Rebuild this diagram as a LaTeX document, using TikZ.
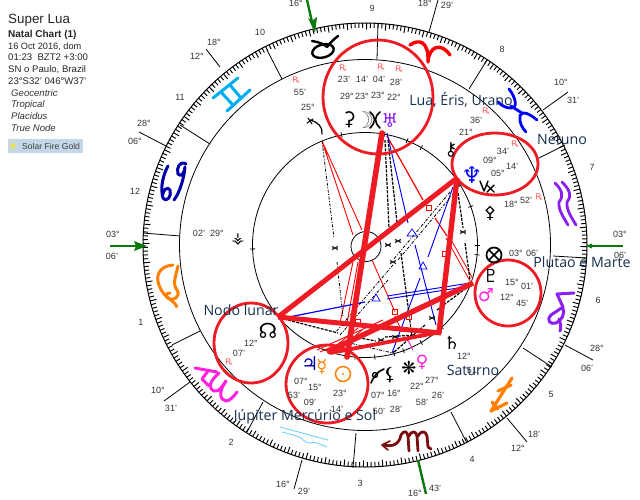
\documentclass[tikz,border=0pt]{standalone}
\usepackage{fontspec}
\setmainfont{Liberation Sans}
\newfontfamily\sym{DejaVu Sans}
\newfontfamily\ovl{Open Sans}
\definecolor{cred}{HTML}{ED1C24}
\definecolor{ovlc}{HTML}{17304F}
\definecolor{lab}{HTML}{333333}
\definecolor{rx}{HTML}{FF4040}
\definecolor{grn}{HTML}{0B7A0B}
\definecolor{purp}{HTML}{8A1FF0}
\definecolor{orng}{HTML}{FF8000}
\definecolor{mag}{HTML}{FF20E0}
\definecolor{dred}{HTML}{7B0F0F}
\definecolor{navy2}{HTML}{0000A8}
\definecolor{sfg}{HTML}{C4D6E8}
\tikzset{
 lb/.style={inner sep=0pt,font=\fontsize{9}{9}\selectfont,text=lab},
 hd/.style={anchor=base west,inner sep=0pt,font=\fontsize{9.6}{10}\selectfont,text=black!85},
 hi/.style={anchor=base west,inner sep=0pt,font=\fontsize{9.6}{10}\selectfont\itshape,text=black!80},
 rxl/.style={inner sep=0pt,font=\fontsize{8}{8}\selectfont,text=rx},
 ovtxt/.style={inner sep=0pt,font=\ovl\fontsize{14.2}{15}\selectfont,text=ovlc},
 gly/.style={inner sep=0pt,font=\sym\fontsize{#1}{#1}\selectfont},
 gly/.default=13,
 ring/.style={draw=black,line width=.8pt},
 cusp/.style={draw=black,line width=.8pt},
 aring/.style={draw=cred,line width=2.8pt},
 thick red/.style={draw=cred,line width=#1},
 zod/.style={line width=#1,line cap=round,line join=round},
 rl/.style={draw=red,line width=.9pt},
 bl/.style={draw=blue,line width=.95pt},
 dk/.style={draw=black,line width=.8pt,dash pattern=on 3pt off 1.5pt on 1pt off 1.5pt},
 dkb/.style={draw=black,line width=1.2pt,dash pattern=on 3pt off 1.2pt},
 sq/.style={draw=red,line width=.6pt,fill=white,fill opacity=.4,minimum size=5.5pt,inner sep=0pt},
 tri/.style={draw=blue,line width=.7pt},
}
\begin{document}
\begin{tikzpicture}[x=1pt,y=-1pt]
\useasboundingbox (0,0) rectangle (640,499);
\fill[white] (0,0) rectangle (640,499);
% header
\node[hd,font=\fontsize{13.4}{14}\selectfont] at (8,23) {Super Lua};
\node[hd,font=\fontsize{10}{10}\selectfont\bfseries] at (8,37) {Natal Chart (1)};
\node[hd,font=\fontsize{9.2}{10}\selectfont] at (8,49) {16 Oct 2016, dom};
\node[hd] at (8,60) {01:23\ \ BZT2 +3:00};
\node[hd] at (8,72) {SN o Paulo, Brazil};
\node[hd] at (8,84) {23°S32' 046°W37'};
\node[hi] at (11,96) {Geocentric};
\node[hi] at (11,107) {Tropical};
\node[hi] at (11,119) {Placidus};
\node[hi] at (11,131) {True Node};
\fill[sfg] (8,139) rectangle (83,153);
\node[hd,font=\fontsize{8.6}{9}\selectfont,text=black!75] at (22,149) {Solar Fire Gold};
\node[gly=11,text=yellow!85!orange] at (13,146) {☀};
% rings
\draw[ring,line width=1pt] (365,245) circle (222);
\draw[ring] (365,245) circle (185.5);
\draw[ring] (365,245) circle (112.5);
\draw[ring] (366,246.5) circle (15);
% degree ticks
\foreach \a in {0,...,359}{
  \pgfmathsetmacro{\rin}{mod(\a,5)==0 ? 215.5 : 217.2}
  \draw[black,line width=.95pt] ({365+\rin*cos(\a+.4)},{245+\rin*sin(\a+.4)}) -- ({365+222*cos(\a+.4)},{245+222*sin(\a+.4)});
}
% inner ticks
\foreach \a in {-80,-60,-32,-20,0,5,20,47,60,70,75,85,95,100,145,178,258,-68}{
  \draw[black,line width=.8pt] ({365+110*cos(\a)},{245+110*sin(\a)}) -- ({365+115*cos(\a)},{245+115*sin(\a)});
}
% house cusps
\draw[cusp] (378,23)--(377,59);
\draw[cusp] (267,50)--(282,79);
\draw[cusp] (180,125)--(210,144);
\draw[cusp] (487,60)--(469,89);
\draw[cusp] (565,145)--(539,158);
\draw[cusp] (143,233)--(180,236);
\draw[cusp] (587,258)--(553,256);
\draw[cusp] (200,331)--(172,345);
\draw[cusp] (263,402)--(247,432);
\draw[cusp] (356,433)--(353,468);
\draw[cusp] (451,412)--(467,443);
\draw[cusp] (523,348)--(552,367);
% outer lines
\draw[cusp] (438,0)--(429,32);
\draw[cusp] (543,110)--(568,92);
\draw[cusp] (565,345)--(593,360);
\draw[cusp] (507,418)--(527,442);
\draw[cusp] (302,460)--(294,489);
\draw[cusp] (190,382)--(164,401);
\draw[cusp] (166,146)--(139,132);
\draw[cusp] (220,67)--(206,49);
% green angle pointers
\draw[grn,line width=2.4pt] (623,246)--(590,246);
\draw[grn,line width=2.4pt] (110,246)--(140,246);
\fill[grn] (147,246)--(134,241)--(136,246)--(134,251)--cycle;
\fill[grn] (586,246)--(592,243.5)--(592,248.5)--cycle;
\draw[grn,line width=2.4pt] (307,0)--(312,22);
\fill[grn] (315,33)--(308,18)--(312,21)--(317,17)--cycle;
\draw[grn,line width=2.4pt] (418,460)--(426,494);
% zodiac
\draw[zod=2.4pt,black] (312,41) .. controls (319,42) and (324,44) .. (327,47) .. controls (330,43) and (334,39) .. (338,36);
\draw[zod=2.4pt,black,rotate around={15:(323,51)}] (323,51) circle[x radius=11,y radius=6.5];
\draw[zod=3.4pt,red] (410,45) .. controls (418,39) and (429,40) .. (428,62) .. controls (429,46) and (441,42) .. (450,55);
\draw[zod=2.8pt,blue] (509,89) .. controls (516,98) and (518,108) .. (511,108) .. controls (506,108) and (502,106) .. (498,102);
\draw[zod=2.8pt,blue] (537,120) .. controls (530,114) and (522,110) .. (520,116) .. controls (519,122) and (522,128) .. (526,132);
\draw[zod=2.8pt,blue] (511,106)--(522,113);
\draw[zod=2.8pt,purp] (555,183) .. controls (562,190) and (564,196) .. (559,202) .. controls (558,210) and (564,218) .. (568,225);
\draw[zod=2.8pt,purp] (562,182) .. controls (570,190) and (572,196) .. (567,202) .. controls (566,210) and (572,218) .. (576,225);
\draw[zod=3pt,purp] (574,293)--(557,294)--(563,307)--(551,315) .. controls (546,320) and (550,325) .. (556,323) .. controls (562,320) and (565,314) .. (563,308);
\draw[zod=3pt,purp] (559,319) .. controls (561,324) and (561,328) .. (560,331);
\draw[zod=3.2pt,orng] (491,411)--(512,378);
\draw[zod=3.2pt,orng] (491,411)--(507,403);
\draw[zod=3.2pt,orng] (492,402)--(498,409);
\draw[zod=3.2pt,orng] (498,391)--(511,385);
\draw[zod=2.8pt,dred] (383,445) .. controls (392,447) and (399,445) .. (401,435) .. controls (404,430) and (407,431) .. (408,436) -- (409,451);
\draw[zod=2.8pt,dred] (409,436) .. controls (412,430) and (416,431) .. (417,436) -- (418,451);
\draw[zod=2.8pt,dred] (418,436) .. controls (421,430) and (426,431) .. (427,436) -- (428,447) -- (431,449);
\draw[zod=1.6pt,dred] (382,445)--(390,441) (382,445)--(388,450);
\draw[zod=.9pt,cyan!55!white] (280,427)--(328,440);
\draw[zod=.9pt,cyan!55!white] (282,432)--(297,436) .. controls (303,438) and (304,443) .. (310,443) .. controls (316,441) and (318,444) .. (327,447);
\draw[zod=3pt,mag] (195,368)--(217,372);
\draw[zod=3pt,mag] (208,371)--(202,379)--(209,386);
\draw[zod=3pt,mag] (219,373) .. controls (209,382) and (208,388) .. (214,391) .. controls (219,392) and (222,387) .. (226,381);
\draw[zod=3pt,mag] (226,381) .. controls (218,392) and (220,400) .. (226,401) .. controls (230,401) and (234,396) .. (237,392);
\draw[zod=3pt,orng] (173,265) .. controls (160,266) and (155,275) .. (159,285) .. controls (162,293) and (166,297) .. (171,300) .. controls (176,304) and (178,308) .. (176,306);
\draw[zod=3pt,orng] (178,266) .. controls (176,275) and (172,284) .. (177,290) .. controls (181,296) and (174,302) .. (168,298) .. controls (165,296) and (166,293) .. (170,293);
\draw[zod=3pt,navy2] (168,166) .. controls (163,175) and (160,188) .. (163,198) .. controls (167,203) and (172,196) .. (170,190) .. controls (168,186) and (163,190) .. (163,194);
\draw[zod=3pt,navy2] (186,164) .. controls (180,160) and (176,168) .. (178,174) .. controls (181,178) and (185,172) .. (185,167) .. controls (184,178) and (180,192) .. (174,200);
\draw[zod=3pt,cyan] (213,98)--(238,78);
\draw[zod=3pt,cyan] (227,111)--(250,90);
\draw[zod=3pt,cyan] (221,92)--(232,104);
\draw[zod=3pt,cyan] (230,85)--(241,98);
% thin aspects
\draw[rl] (322,141)--(353,235) (322,141)--(362,230);
\draw[rl] (353,262)--(340,323) (358,262)--(347,323);
\draw[rl] (372,260)--(395,312) (395,316)--(402,332);
\draw[dk] (322,141)--(334,238) (337,262)--(343,317);
\draw[rl,line width=1.2pt] (387,136)--(423,200);
\draw[rl,line width=1.2pt] (435,218)--(447,236);
\draw[rl,line width=.8pt] (446,238)--(470,281) (449,236)--(473,279);
\draw[bl] (387,133)--(408,223) (415,245)--(436,325);
\draw[bl] (453,187)--(428,257) (420,278)--(392,353);
\draw[bl,line width=1.2pt] (284,318)--(365,302);
\draw[bl] (387,296)--(470,283) (387,299)--(471,286);
\draw[dkb] (385,140)--(389,228);
\draw[dkb] (388,140)--(397,222);
\draw[dkb] (401,253)--(412,337);
\draw[dk] (450,192)--(393,260) (393,265)--(335,333);
\draw[dk] (454,193)--(398,260) (388,280)--(340,335);
\draw[dkb] (458,193)--(463,228) (465,243)--(470,280);
\draw[dkb] (280,318)--(338,333) (350,336)--(376,341);
\draw[dkb] (473,283)--(437,310) (425,325)--(393,353);
\draw[dk] (345,342)--(393,353);
\draw[dkb] (385,337)--(415,335);
\draw[rl] (317,350)--(383,320) (320,352)--(405,315);
\draw[rl] (337,345)--(358,328) (342,347)--(362,330);
\draw[mag,line width=1pt] (408,340)--(413,350);
% aspect glyphs
\node[sq] (s1) at (429,208) {};
\node[sq] (s2) at (445,254) {};
\node[sq] (s3) at (395,312) {};
\node[sq] (s4) at (409,317) {};
\node[sq] (s5) at (358,322) {};
\draw[tri] (412,229)--(417,236)--(407,236)--cycle;
\draw[tri] (423,262)--(427,269)--(419,269)--cycle;
\draw[tri] (376,294)--(380,301)--(372,301)--cycle;
\foreach \x/\y in {335/248,388/245,398/241,393/262,463/232,432/318,381/340,410/337,395/337}{
  \draw[black,line width=.6pt] (\x-3,\y-2)--(\x+3,\y+2) (\x-3,\y+2)--(\x+3,\y-2) (\x-3,\y)--(\x+3,\y);
}
% thick aspects
\draw[thick red=5pt] (278,317)--(457,178);
\draw[thick red=5pt] (278,317)--(441,333);
\draw[thick red=5.6pt,line cap=round] (382,133)--(347,357);
\draw[thick red=5.4pt] (457,178)--(439,333);
\draw[thick red=5.4pt] (473,283)--(327,352);
\draw[thick red=3.8pt] (330,353)--(441,332);
% focus circles
\draw[aring] (378,97) circle[x radius=55,y radius=57];
\draw[aring] (495,164) circle[x radius=43,y radius=31];
\draw[aring] (508,293) circle[x radius=33,y radius=33];
\draw[aring] (251,343) circle[x radius=37,y radius=40];
\draw[aring] (327,384) circle[x radius=41,y radius=39];
% planet glyphs
\draw[zod=1.2pt,black] (310,120) .. controls (318,122) and (323,127) .. (322,134);
\draw[zod=1pt,black] (307,123)--(313,119) (308,118)--(312,124);
\node[gly=19,text=black] at (349,120) {⚳};
\node[gly=23,text=gray] at (364,120) {☽};
\draw[zod=1.6pt,black] (370,112) .. controls (376,117) and (376,122) .. (370,128);
\draw[zod=1.6pt,black] (380,112) .. controls (374,117) and (374,122) .. (380,128);
\node[gly=19,text=purp] at (390,121) {♅};
\node[gly=18,text=black] at (451,150) {⚷};
\node[gly=23,text=blue] at (472,175) {♆};
\draw[zod=1.4pt,black] (480,181)--(484,191)--(488,181) (487,185)--(494,192) (494,185)--(487,192);
\node[gly=17,text=black] at (490,213) {⚴};
\draw[black,line width=1.7pt] (494,255) circle (7.5);
\draw[black,line width=1.5pt] (489,250)--(499,260) (499,250)--(489,260);
\node[gly=18,text=black] at (491,276) {♇};
\node[gly=18,text=mag] at (486,295) {♂};
\node[gly=21,text=black] at (268,331) {☊};
\node[gly=19,text=navy2] at (310,364) {♃};
\node[gly=18,text=orng] at (322,367) {☿};
\draw[orng,line width=1.5pt] (343,374) circle (7.5);
\fill[orng] (343,374) circle (1.2);
\draw[zod=1.6pt,black] (371,383) .. controls (374,376) and (378,371) .. (384,369);
\draw[zod=1.4pt,black] (375,375) circle (2.5);
\node[gly=18,text=black] at (390,375) {⚸};
\node[gly=18,text=black] at (409,368) {❋};
\node[gly=17,text=mag] at (422,362) {♀};
\node[gly=18,text=black] at (452,343) {♄};
\node[gly=15,text=black] at (238,240) {⚶};
% outer labels
\foreach \x/\y/\t in {
 296/3/16°, 372/8/9, 260/32/10, 425/3/18°, 447/5/29', 502/49/8, 561/82/10°, 573/100/31',
 592/167/7, 620/234/03°, 620/255/06', 598/300/6, 597/348/28°, 587/368/06', 551/394/5,
 534/434/18', 518/448/12°, 472/459/4, 360/483/3, 415/493/16°, 435/488/43', 283/484/16°,
 304/491/29', 231/442/2, 171/408/31', 158/390/10°, 141/322/1, 112/256/06', 113/234/03°,
 135/191/12, 135/141/06°, 144/123/28°, 180/97/11, 197/56/12°, 214/42/18°,
 344/79/23', 362/79/14', 379/79/04', 396/82/28', 347/96/29°, 362/96/23°, 378/95/23°, 394/97/22°,
 300/92/55', 308/107/25°, 466/132/21°, 476/120/36', 503/151/34', 490/160/09°, 512/166/14', 498/173/05°,
 511/204/18°, 526/200/52', 516/253/03°, 532/253/06', 512/282/15°, 527/286/01', 507/297/12°, 522/303/45',
 251/343/12°, 239/353/07', 301/381/07°, 315/387/15°, 340/393/23°, 294/395/53', 310/402/09', 337/409/14',
 378/395/07°, 394/393/16°, 379/411/50', 396/409/28', 417/386/22°, 432/380/27°, 422/402/58', 438/395/26',
 464/356/12°, 473/370/51', 199/233/02', 217/233/29°}{
  \node[lb] at (\x,\y) {\t};
}
\foreach \p in {(343,68),(381,67),(399,69),(296,80),(486,111),(515,144),(539,197),(229,362)}{
  \node[rxl] at \p {R\kern-1.2pt\raisebox{-1.5pt}{\fontsize{5}{5}\selectfont x}};
}
% overlay captions
\node[ovtxt] at (461,100) {Lua, Éris, Urano};
\node[ovtxt] at (562,139) {Netuno};
\node[ovtxt] at (582,262) {Plutao e Marte};
\node[ovtxt] at (241,310) {Nodo lunar};
\node[ovtxt] at (305,417) {Júpiter Mercúrio e Sol};
\node[ovtxt] at (473,370) {Saturno};
\end{tikzpicture}
\end{document}
